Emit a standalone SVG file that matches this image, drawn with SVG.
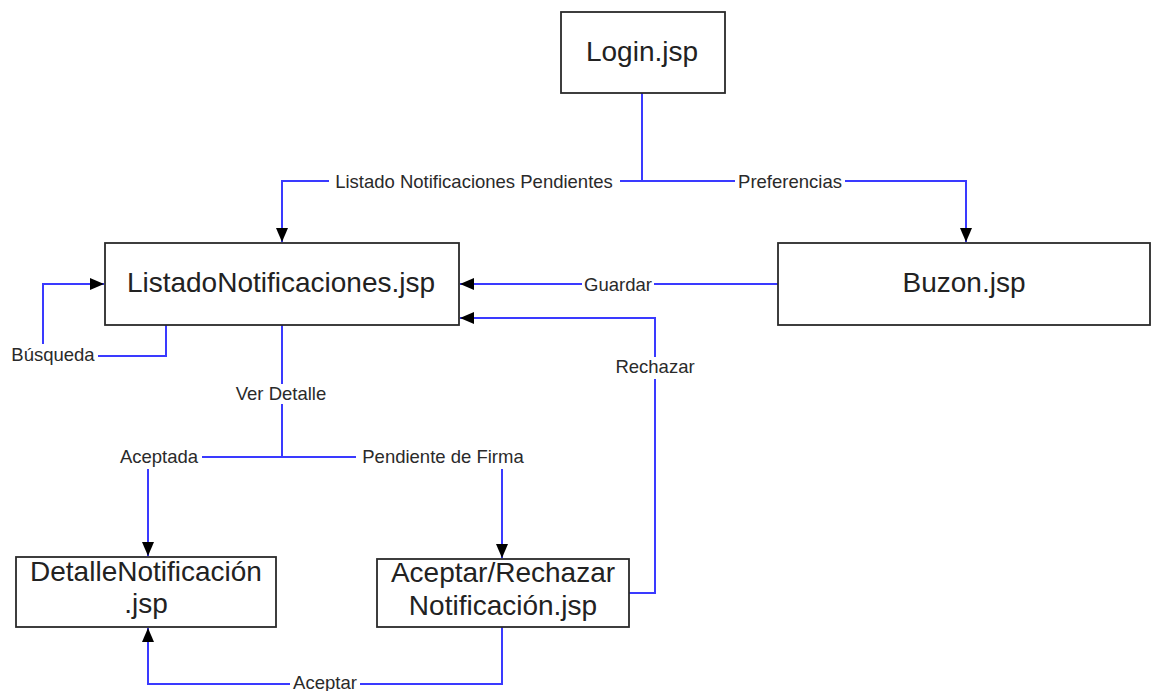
<svg xmlns="http://www.w3.org/2000/svg" width="1152" height="691" viewBox="0 0 1152 691">
<style>
.box{fill:#fff;stroke:#2a2a2a;stroke-width:1.8}
.nt{font-family:"Liberation Sans",Arial,sans-serif;font-size:28px;fill:#222;text-anchor:middle}
.ln{fill:none;stroke:#3a3aff;stroke-width:2}
.lb{font-family:"Liberation Sans",Arial,sans-serif;font-size:18.5px;fill:#2a2a2a;text-anchor:middle}
.bg{fill:#fff}
</style>
<defs>
<marker id="arr" markerUnits="userSpaceOnUse" markerWidth="14" markerHeight="12" refX="14" refY="6" orient="auto">
<path d="M0,0 L14,6 L0,12 z" fill="#000"/>
</marker>
</defs>
<rect width="1152" height="691" fill="#fff"/>
<g id="connectors">
<path class="ln" d="M642,93 V181 H282 V242" marker-end="url(#arr)"/>
<path class="ln" d="M642,181 H966 V242" marker-end="url(#arr)"/>
<path class="ln" d="M778,284 H460" marker-end="url(#arr)"/>
<path class="ln" d="M629,593 H655 V318 H460" marker-end="url(#arr)"/>
<path class="ln" d="M166,325 V356 H43 V284 H104" marker-end="url(#arr)"/>
<path class="ln" d="M282,325 V457 H148 V556" marker-end="url(#arr)"/>
<path class="ln" d="M282,457 H502 V558" marker-end="url(#arr)"/>
<path class="ln" d="M502,627 V684 H148 V628" marker-end="url(#arr)"/>
<rect class="bg" x="329" y="172" width="291" height="20"/>
<text class="lb" x="474" y="188">Listado Notificaciones Pendientes</text>
<rect class="bg" x="735" y="172" width="110" height="20"/>
<text class="lb" x="790" y="188">Preferencias</text>
<rect class="bg" x="582" y="275" width="72" height="20"/>
<text class="lb" x="618" y="291">Guardar</text>
<rect class="bg" x="8" y="344" width="90" height="22"/>
<text class="lb" x="53" y="361">Búsqueda</text>
<rect class="bg" x="231" y="384" width="100" height="20"/>
<text class="lb" x="281" y="400">Ver Detalle</text>
<rect class="bg" x="116" y="447" width="86" height="22"/>
<text class="lb" x="159" y="463">Aceptada</text>
<rect class="bg" x="356" y="447" width="174" height="22"/>
<text class="lb" x="443" y="463">Pendiente de Firma</text>
<rect class="bg" x="610" y="357" width="90" height="22"/>
<text class="lb" x="655" y="373">Rechazar</text>
<rect class="bg" x="290" y="675" width="70" height="16"/>
<text class="lb" x="325" y="689">Aceptar</text>
</g>
<g id="login">
<rect class="box" x="561" y="12" width="164" height="81"/>
<text class="nt" x="642" y="61">Login.jsp</text>
</g>
<g id="listado">
<rect class="box" x="105" y="243" width="354" height="82"/>
<text class="nt" x="281" y="292">ListadoNotificaciones.jsp</text>
</g>
<g id="buzon">
<rect class="box" x="778" y="243" width="372" height="82"/>
<text class="nt" x="964" y="292">Buzon.jsp</text>
</g>
<g id="detalle">
<rect class="box" x="16" y="557" width="260" height="70"/>
<text class="nt" x="146" y="581">DetalleNotificación</text>
<text class="nt" x="146" y="613">.jsp</text>
</g>
<g id="aceptarRechazar">
<rect class="box" x="377" y="559" width="252" height="68"/>
<text class="nt" x="503" y="582">Aceptar/Rechazar</text>
<text class="nt" x="503" y="615">Notificación.jsp</text>
</g>
</svg>
